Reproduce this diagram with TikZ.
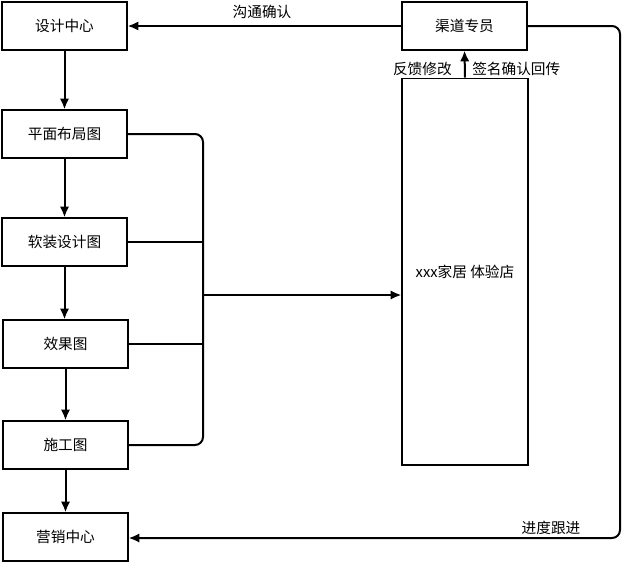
\documentclass[tikz,border=0pt]{standalone}
\usepackage{fontspec}
\setmainfont{Noto Sans CJK SC}
\usetikzlibrary{arrows.meta}
\tikzset{
  box/.style={draw, line width=1pt, minimum width=93.75pt, minimum height=36pt,
    inner sep=0pt, font=\fontsize{11}{13}\selectfont},
  conn/.style={line width=1.5pt, rounded corners=6pt},
  lbl/.style={inner sep=0pt, font=\fontsize{11}{13}\selectfont}
}
\begin{document}
\begin{tikzpicture}[x=0.75pt, y=-0.75pt, >={Latex[length=8pt,width=7pt]}]
    \useasboundingbox (0,0) rectangle (630,562);
    % 1. Các khối bên trái
    \node[box] (sjzx) at (64.5,26) {设计中心};
    \node[box] (pmbj) at (64.5,134) {平面布局图};
    \node[box] (rzsj) at (64.5,242) {软装设计图};
    \node[box] (xgt) at (65.5,344) {效果图};
    \node[box] (sgt) at (65.5,445) {施工图};
    \node[box] (yxzx) at (65.5,537) {营销中心};
    
    % 2. Các khối bên phải
    \node[box] (qdzy) at (464.5,26) {渠道专员};
    \node[box, minimum width=94.5pt, minimum height=290pt] (tyd) at (465,271.5) {xxx家居 体验店};
    
    % 3. Luồng dọc bên trái
    \draw[conn,->] (sjzx) -- (pmbj);
    \draw[conn,->] (pmbj) -- (rzsj);
    \draw[conn,->] (rzsj.south) -- (rzsj.south |- xgt.north);
    \draw[conn,->] (xgt) -- (sgt);
    \draw[conn,->] (sgt) -- (yxzx);
    
    % 4. Ngoặc gom bốn bản vẽ về cửa hàng
    \coordinate (gp) at (203,295);
    \draw[conn] (pmbj.east) -- (pmbj.east -| gp) -- (sgt.east -| gp) -- (sgt.east);
    \draw[conn] (rzsj.east) -- (rzsj.east -| gp);
    \draw[conn] (xgt.east) -- (xgt.east -| gp);
    \draw[conn,->] (gp) -- (tyd.west |- gp);
    
    % 5. Trao đổi với chuyên viên kênh
    \draw[conn,->] (qdzy.west) -- (sjzx.east);
    \node[lbl] (gtqr) at (262,12) {沟通确认};
    \draw[conn,->] (tyd.north) -- (qdzy.south);
    \node[lbl, anchor=east] (fkxg) at (452,69) {反馈修改};
    \node[lbl, anchor=west] (qmqr) at (472,69) {签名确认回传};
    
    % 6. Theo dõi tiến độ
    \coordinate (gr) at (620,538);
    \draw[conn,->] (qdzy.east) -| (gr) -- (yxzx.east |- gr);
    \node[lbl] (jdgj) at (551,528) {进度跟进};
\end{tikzpicture}
\end{document}
